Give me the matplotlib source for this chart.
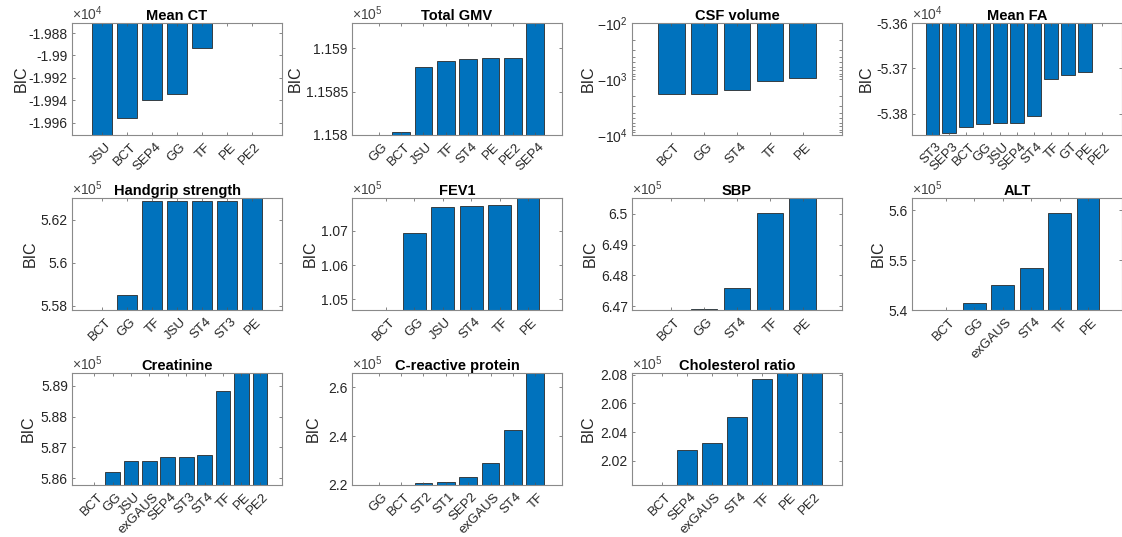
import numpy as np
import matplotlib
matplotlib.use("Agg")
import matplotlib.pyplot as plt

plt.rcParams['font.family'] = ['Liberation Sans', 'DejaVu Sans']
plt.rcParams['mathtext.fontset'] = 'custom'
plt.rcParams['mathtext.rm'] = 'Liberation Sans'
plt.rcParams['mathtext.it'] = 'Liberation Sans:italic'
plt.rcParams['mathtext.bf'] = 'Liberation Sans:bold'

# ---------------- data (BIC values) ----------------
ct_models = ['JSU', 'BCT', 'SEP4', 'GG', 'TF', 'PE', 'PE2']
ct_bic = [-19980, -19955.5, -19939.4, -19934.9, -19892.9, -19871.3, -19870.5]
ct_ylim = [-19971.1, -19871.0]
ct_ticks = [-1.996, -1.994, -1.992, -1.990, -1.988]
ct_ticklabels = ['-1.996', '-1.994', '-1.992', '-1.99', '-1.988']

gmv_models = ['GG', 'BCT', 'JSU', 'TF', 'ST4', 'PE', 'PE2', 'SEP4']
gmv_bic = [115799, 115803.5, 115877.7, 115885.4, 115887.7, 115888.8, 115888.9, 115940]
gmv_ylim = [115800, 115928.8]
gmv_ticks = [1.158, 1.1585, 1.159]
gmv_ticklabels = ['1.158', '1.1585', '1.159']

csf_models = ['BCT', 'GG', 'ST4', 'TF', 'PE']
csf_bic = [-1871, -1820, -1585, -1094, -953]
csf_ylim = [100, 10000]
csf_ticks = [100, 1000, 10000]
csf_ticklabels = [r'$-10^{2}$', r'$-10^{3}$', r'$-10^{4}$']

fa_models = ['ST3', 'SEP3', 'BCT', 'GG', 'JSU', 'SEP4', 'ST4', 'TF', 'GT', 'PE', 'PE2']
fa_bic = [-53860, -53843.0, -53829.6, -53823.0, -53820.7, -53819.3, -53805.9,
          -53723.0, -53714.1, -53708.9, -53590]
fa_ylim = [-53846.7, -53600]
fa_ticks = [-5.38, -5.37, -5.36]
fa_ticklabels = ['-5.38', '-5.37', '-5.36']

hg_models = ['BCT', 'GG', 'TF', 'JSU', 'ST4', 'ST3', 'PE']
hg_bic = [557700, 558500, 562863, 562864, 562865, 562866, 563100]
hg_ylim = [557800, 563020]
hg_ticks = [5.58, 5.60, 5.62]
hg_ticklabels = ['5.58', '5.6', '5.62']

fev_models = ['BCT', 'GG', 'JSU', 'ST4', 'TF', 'PE']
fev_bic = [104600, 106931, 107690, 107719, 107749, 108000]
fev_ylim = [104685, 107966]
fev_ticks = [1.05, 1.06, 1.07]
fev_ticklabels = ['1.05', '1.06', '1.07']

sbp_models = ['BCT', 'GG', 'ST4', 'TF', 'PE']
sbp_bic = [646800, 646897, 647573, 650023, 650600]
sbp_ylim = [646870, 650515]
sbp_ticks = [6.47, 6.48, 6.49, 6.50]
sbp_ticklabels = ['6.47', '6.48', '6.49', '6.5']

alt_models = ['BCT', 'GG', 'exGAUS', 'ST4', 'TF', 'PE']
alt_bic = [539000, 541350, 544930, 548380, 559460, 563000]
alt_ylim = [540000, 562500]
alt_ticks = [5.4, 5.5, 5.6]
alt_ticklabels = ['5.4', '5.5', '5.6']

cr_models = ['BCT', 'GG', 'JSU', 'exGAUS', 'SEP4', 'ST3', 'ST4', 'TF', 'PE', 'PE2']
cr_bic = [585700, 586209, 586545, 586545, 586675, 586697, 586740, 588823, 589500, 589500]
cr_ylim = [585783, 589412]
cr_ticks = [5.86, 5.87, 5.88, 5.89]
cr_ticklabels = ['5.86', '5.87', '5.88', '5.89']

crp_models = ['GG', 'BCT', 'ST2', 'ST1', 'SEP2', 'exGAUS', 'ST4', 'TF']
crp_bic = [219000, 220130, 220820, 221090, 223410, 229150, 242530, 270000]
crp_ylim = [220000, 265730]
crp_ticks = [2.2, 2.4, 2.6]
crp_ticklabels = ['2.2', '2.4', '2.6']

chol_models = ['BCT', 'SEP4', 'exGAUS', 'ST4', 'TF', 'PE', 'PE2']
chol_bic = [200000, 202767, 203280, 205050, 207720, 208500, 208500]
chol_ylim = [200326, 208120]
chol_ticks = [2.02, 2.04, 2.06, 2.08]
chol_ticklabels = ['2.02', '2.04', '2.06', '2.08']

titles = ['Mean CT', 'Total GMV', 'CSF volume', 'Mean FA',
          'Handgrip strength', 'FEV1', 'SBP', 'ALT',
          'Creatinine', 'C-reactive protein', 'Cholesterol ratio']
exponents = [4, 5, None, 4, 5, 5, 5, 5, 5, 5, 5]

panels = [
    (ct_models, ct_bic, ct_ylim, ct_ticks, ct_ticklabels),
    (gmv_models, gmv_bic, gmv_ylim, gmv_ticks, gmv_ticklabels),
    (csf_models, csf_bic, csf_ylim, csf_ticks, csf_ticklabels),
    (fa_models, fa_bic, fa_ylim, fa_ticks, fa_ticklabels),
    (hg_models, hg_bic, hg_ylim, hg_ticks, hg_ticklabels),
    (fev_models, fev_bic, fev_ylim, fev_ticks, fev_ticklabels),
    (sbp_models, sbp_bic, sbp_ylim, sbp_ticks, sbp_ticklabels),
    (alt_models, alt_bic, alt_ylim, alt_ticks, alt_ticklabels),
    (cr_models, cr_bic, cr_ylim, cr_ticks, cr_ticklabels),
    (crp_models, crp_bic, crp_ylim, crp_ticks, crp_ticklabels),
    (chol_models, chol_bic, chol_ylim, chol_ticks, chol_ticklabels),
]

# ---------------- layout ----------------
W, H = 1122, 537
fig = plt.figure(figsize=(W / 100, H / 100), dpi=100)
col_left = [72, 352, 632, 912]
row_top = [23, 198, 373]
ax_w, ax_h = 210, 112
# distance (px) of the "BIC" label centre from the axes' left edge
ylabel_off = [51, 57, 44, 46, 42, 42, 42, 34, 44, 39, 44]

bar_color = '#0072BD'
edge_color = '#2a2a2a'
spine_color = '#8a8a8a'
text_color = '#262626'

for i, (models, bic, ylim, ticks, ticklabels) in enumerate(panels):
    r, c = divmod(i, 4)
    ax = fig.add_axes([col_left[c] / W, 1 - (row_top[r] + ax_h) / H, ax_w / W, ax_h / H])
    x = np.arange(1, len(models) + 1)
    vals = np.asarray(bic, dtype=float)
    exp = exponents[i]
    if exp is None:
        # log axis with negative values (magnitude, reversed)
        mag = np.abs(vals)
        ax.set_yscale('log')
        ax.bar(x, mag - 1, bottom=1, width=0.8, color=bar_color,
               edgecolor=edge_color, linewidth=0.6)
        ax.set_ylim(ylim[1], ylim[0])
        ax.set_yticks(ticks)
        ax.set_yticklabels(ticklabels)
    else:
        s = 10.0 ** exp
        ax.bar(x, vals / s, width=0.8, color=bar_color,
               edgecolor=edge_color, linewidth=0.6)
        ax.set_ylim(ylim[0] / s, ylim[1] / s)
        ax.set_yticks(ticks)
        ax.set_yticklabels(ticklabels)
        ax.text(0.0, 1.004, r'$\times10^{%d}$' % exp, transform=ax.transAxes,
                ha='left', va='bottom', fontsize=10, color='#444444')
    ax.set_xlim(-0.2, len(models) + 1.2)
    ax.set_xticks(x)
    ax.set_xticklabels([])
    for xi, name in zip(x, models):
        ax.annotate(name, xy=(xi, 0), xycoords=ax.get_xaxis_transform(),
                    xytext=(7, -10), textcoords='offset pixels',
                    rotation=45, ha='right', va='center', rotation_mode='anchor',
                    fontsize=9.5, color=text_color, annotation_clip=False)
    ax.tick_params(axis='y', labelsize=10, colors=text_color, pad=3)
    ax.tick_params(direction='in', top=True, right=True, length=2.5, width=0.5,
                   color='#555555', which='both')
    for sp in ax.spines.values():
        sp.set_color(spine_color)
        sp.set_linewidth(0.8)
    ax.set_ylabel('BIC', fontsize=11.5, color=text_color, va='center')
    ax.yaxis.set_label_coords(-ylabel_off[i] / ax_w, 0.5)
    ax.set_title(titles[i], fontsize=10.5, fontweight='bold', pad=2)

fig.savefig('out.png', dpi=100)
